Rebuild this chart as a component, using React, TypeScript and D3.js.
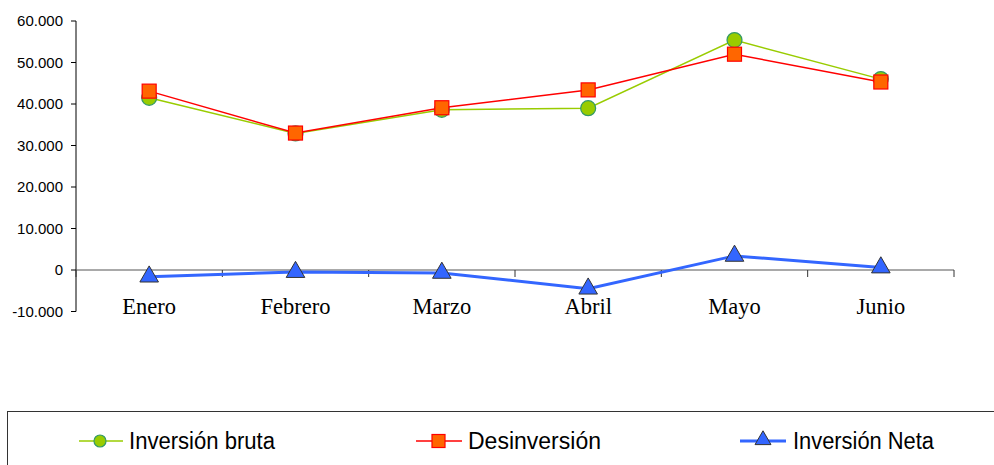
import React from 'react'
import { scaleBand, scaleLinear, line, symbol, symbolTriangle } from 'd3'

const months = ['Enero', 'Febrero', 'Marzo', 'Abril', 'Mayo', 'Junio']
const bruta = [41500, 32900, 38600, 39000, 55400, 46000]
const desinversion = [43100, 33000, 39100, 43400, 52000, 45300]
const neta = [-1600, -500, -700, -4500, 3400, 600]
const yTicks = [60000, 50000, 40000, 30000, 20000, 10000, 0, -10000]

const W = 994
const H = 465
const m = { l: 76, r: 954, t: 21, b: 311.5 }

const fmt = (v: number) => (v === 0 ? '0' : (v < 0 ? '-' : '') + Math.abs(v / 1000).toFixed(0) + '.000')

const App = () => {
    const x = scaleBand<string>().domain(months).range([m.l, m.r])
    const y = scaleLinear().domain([-10000, 60000]).range([m.b, m.t])
    const cx = (i: number) => (x(months[i]) as number) + x.bandwidth() / 2
    const path = line<number>().x((_, i) => cx(i)).y(d => y(d))
    const tri = symbol().type(symbolTriangle).size(150)()
    const triSmall = symbol().type(symbolTriangle).size(110)()
    const tickX = months.map(mo => x(mo) as number).concat([m.r])

    return (
        <svg width={W} height={H} style={{ position: 'absolute', left: 0, top: 0, background: '#fff' }}>
            {/* y axis */}
            <line x1={m.l} x2={m.l} y1={y(60000)} y2={y(-10000)} stroke='#000' strokeWidth='1' />
            {yTicks.map(t => (
                <g key={t}>
                    <line x1={m.l - 5} x2={m.l} y1={y(t)} y2={y(t)} stroke='#000' />
                    <text x={63} y={y(t)} dy='0.35em' textAnchor='end' fontFamily='Liberation Sans, Arial, sans-serif' fontSize='15' fill='#000'>{fmt(t)}</text>
                </g>
            ))}
            {/* x axis at zero */}
            <line x1={m.l} x2={m.r} y1={y(0)} y2={y(0)} stroke='#555' strokeWidth='1' />
            {tickX.map((t, i) => (
                <line key={i} x1={t} x2={t} y1={y(0)} y2={y(0) + 7} stroke='#333' />
            ))}
            {months.map((mo, i) => (
                <text key={mo} x={cx(i)} y={314} textAnchor='middle' fontFamily='Liberation Serif, Times New Roman, serif' fontSize='22.5' fill='#000'>{mo}</text>
            ))}

            {/* Inversión bruta */}
            <path d={path(bruta) || ''} fill='none' stroke='#99cc00' strokeWidth='1.5' />
            {bruta.map((d, i) => (
                <circle key={i} cx={cx(i)} cy={y(d)} r='7.5' fill='#99cc00' stroke='#339966' strokeWidth='1.2' />
            ))}
            {/* Desinversión */}
            <path d={path(desinversion) || ''} fill='none' stroke='#ff0000' strokeWidth='1.5' />
            {desinversion.map((d, i) => (
                <rect key={i} x={cx(i) - 7} y={y(d) - 7} width='14' height='14' fill='#ff6600' stroke='#ff0000' strokeWidth='1.2' />
            ))}
            {/* Inversión Neta */}
            <path d={path(neta) || ''} fill='none' stroke='#3366ff' strokeWidth='3' />
            {neta.map((d, i) => (
                <path key={i} d={tri || ''} transform={`translate(${cx(i)},${y(d)})`} fill='#3366ff' stroke='#333' strokeWidth='1' />
            ))}

            {/* legend */}
            <rect x={7.5} y={411.5} width={1000} height={60} fill='none' stroke='#333' strokeWidth='1' />
            <g fontFamily='Liberation Sans, Arial, sans-serif' fontSize='23' fill='#000'>
                <line x1={79} x2={123} y1={441} y2={441} stroke='#99cc00' strokeWidth='1.5' />
                <circle cx={100} cy={441} r='6' fill='#99cc00' stroke='#339966' strokeWidth='1.2' />
                <text x={129} y={441} dy='0.35em' textLength='146' lengthAdjust='spacingAndGlyphs'>Inversión bruta</text>

                <line x1={416} x2={462} y1={441} y2={441} stroke='#ff0000' strokeWidth='1.5' />
                <rect x={432} y={434.5} width='13' height='13' fill='#ff6600' stroke='#ff0000' strokeWidth='1.2' />
                <text x={468} y={441} dy='0.35em' textLength='133' lengthAdjust='spacingAndGlyphs'>Desinversión</text>

                <line x1={740} x2={786} y1={441} y2={441} stroke='#3366ff' strokeWidth='3' />
                <path d={triSmall || ''} transform='translate(763,440)' fill='#3366ff' stroke='#333' strokeWidth='1' />
                <text x={793} y={441} dy='0.35em' textLength='141' lengthAdjust='spacingAndGlyphs'>Inversión Neta</text>
            </g>
        </svg>
    )
}

export default App
